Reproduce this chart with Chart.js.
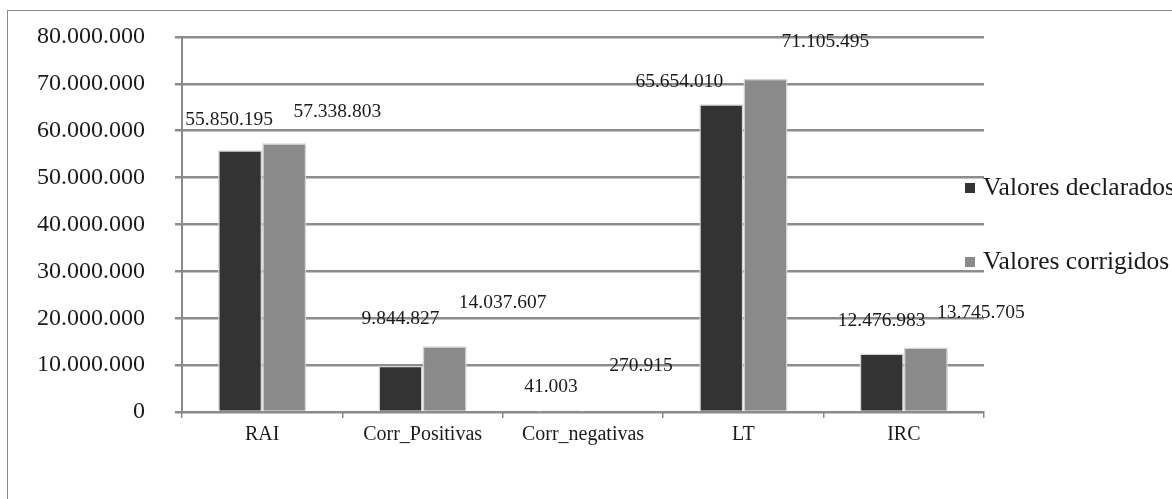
<!DOCTYPE html>
<html>
<head>
<meta charset="utf-8">
<script src="https://cdn.jsdelivr.net/npm/chart.js@4.4.0/dist/chart.umd.min.js"></script>
<style>
  html, body { margin: 0; padding: 0; background: #fff; overflow: hidden; }
  #wrap { position: relative; width: 1172px; height: 499px; }
  #frame { position: absolute; left: 7px; top: 10px; width: 1300px; height: 600px; border: 1px solid #8a8a8a; box-sizing: border-box; }
  canvas { position: absolute; left: 0; top: 0; }
</style>
</head>
<body>
<div id="wrap">
  <div id="frame"></div>
  <canvas id="chart_bars" width="1172" height="499"></canvas>
</div>
<script>
var categories = ['RAI', 'Corr_Positivas', 'Corr_negativas', 'LT', 'IRC'];
var declarados = [55850195, 9844827, 41003, 65654010, 12476983];
var corrigidos = [57338803, 14037607, 270915, 71105495, 13745705];
var seriesNames = ['Valores declarados', 'Valores corrigidos'];

// where each value label sits relative to its bar (dx, dy from the bar top centre)
var labelOffsets = [
  [[-11, -30], [0, -47], [-10, -25], [-42, -22], [0, -33]],
  [[53, -31], [58, -43], [36, -45], [60, -37], [55, -35]]
];

function fmt(v) {
  return String(Math.round(v)).replace(/\B(?=(\d{3})+(?!\d))/g, '.');
}

var valueLabels = {
  id: 'valueLabels',
  afterDatasetsDraw: function(chart) {
    var ctx = chart.ctx;
    ctx.save();
    ctx.font = '19.5px "Liberation Serif"';
    ctx.fillStyle = '#1a1a1a';
    ctx.textAlign = 'center';
    ctx.textBaseline = 'middle';
    chart.data.datasets.forEach(function(ds, di) {
      chart.getDatasetMeta(di).data.forEach(function(bar, i) {
        var off = labelOffsets[di][i];
        ctx.fillText(fmt(ds.data[i]), bar.x + off[0], bar.y + off[1]);
      });
    });
    ctx.restore();
  }
};

var sideLegend = {
  id: 'sideLegend',
  afterDraw: function(chart) {
    var ctx = chart.ctx;
    var rows = [188, 262];
    ctx.save();
    ctx.font = '25.5px "Liberation Serif"';
    ctx.textBaseline = 'middle';
    ctx.textAlign = 'left';
    chart.data.datasets.forEach(function(ds, di) {
      ctx.fillStyle = ds.backgroundColor;
      ctx.fillRect(965, rows[di] - 5, 10, 10);
      ctx.fillStyle = '#1a1a1a';
      ctx.fillText(ds.label, 983, rows[di]);
    });
    ctx.restore();
  }
};

var ctx = document.getElementById('chart_bars').getContext('2d');
var chart = new Chart(ctx, {
  type: 'bar',
  data: {
    labels: categories,
    datasets: [
      {
        label: seriesNames[0],
        data: declarados,
        backgroundColor: '#333333',
        borderColor: '#d4d4d4',
        borderWidth: 1.5,
        categoryPercentage: 0.55,
        barPercentage: 1
      },
      {
        label: seriesNames[1],
        data: corrigidos,
        backgroundColor: '#8a8a8a',
        borderColor: '#d4d4d4',
        borderWidth: 1.5,
        categoryPercentage: 0.55,
        barPercentage: 1
      }
    ]
  },
  options: {
    responsive: false,
    animation: false,
    layout: { padding: { left: 0, top: 30, right: 188, bottom: 0 } },
    plugins: {
      legend: { display: false },
      tooltip: { enabled: false }
    },
    scales: {
      x: {
        grid: { display: true, offset: true, drawOnChartArea: false, drawTicks: true, tickLength: 6, color: '#8a8a8a', lineWidth: 1.5 },
        border: { display: true, color: '#8a8a8a', width: 2 },
        ticks: { color: '#1a1a1a', padding: 5, font: { family: 'Liberation Serif', size: 20 } },
        afterFit: function(scale) { scale.height = 87; }
      },
      y: {
        min: 0,
        max: 80000000,
        ticks: {
          stepSize: 10000000,
          padding: 30,
          color: '#1a1a1a',
          font: { family: 'Liberation Serif', size: 24, lineHeight: 0.58 },
          callback: function(v) { return fmt(v); }
        },
        grid: { color: '#8c8c8c', lineWidth: 2.5, tickLength: 7 },
        border: { display: true, color: '#8a8a8a', width: 2 },
        afterFit: function(scale) { scale.width = 182; }
      }
    }
  },
  plugins: [valueLabels, sideLegend]
});
</script>
</body>
</html>
